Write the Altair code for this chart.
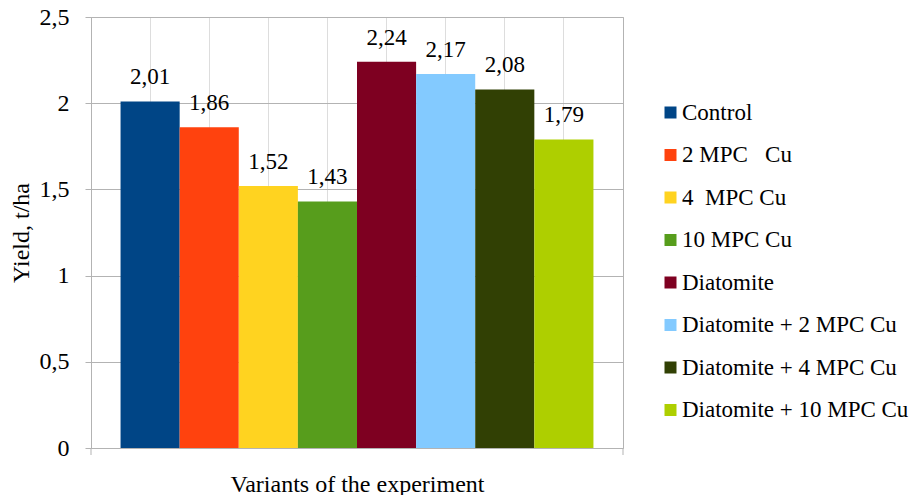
import altair as alt
import pandas as pd

variants = ["Control", "2 MPC\u00a0\u00a0 Cu", "4 \u00a0MPC Cu", "10 MPC Cu", "Diatomite",
            "Diatomite + 2 MPC Cu", "Diatomite + 4 MPC Cu", "Diatomite + 10 MPC Cu"]
yields = [2.01, 1.86, 1.52, 1.43, 2.24, 2.17, 2.08, 1.79]
colors = ["#004586", "#ff420e", "#ffd320", "#579d1c", "#7e0021", "#83caff", "#314004", "#aecf00"]

df = pd.DataFrame({"variant": variants, "yield": yields})

FONT = "Liberation Serif, Times New Roman, serif"
FS = 24
FS_LEG = 23
FS_LAB = 23
GRAY = "#b3b3b3"

yscale = alt.Scale(domain=[0, 2.5], nice=False)

base = alt.Chart(df).transform_calculate(
    lab="replace(format(datum.yield, '.2f'), '.', ',')"
)

x = alt.X("variant:N", sort=variants,
          scale=alt.Scale(paddingInner=0, paddingOuter=0.5),
          axis=alt.Axis(labels=False, ticks=False, domain=False,
                        title="Variants of the experiment",
                        titleFont=FONT, titleFontSize=FS, titleFontWeight="normal",
                        titleColor="black", titleBaseline="alphabetic", titleY=43))

bars = base.mark_bar().encode(
    x=x,
    y=alt.Y("yield:Q", scale=yscale,
            axis=alt.Axis(values=[0, 0.5, 1, 1.5, 2, 2.5],
                          labelExpr="replace(toString(datum.value), '.', ',')",
                          labelFont=FONT, labelFontSize=FS, labelColor="black",
                          labelPadding=16, tickSize=6, tickColor=GRAY,
                          domainColor=GRAY, gridColor=GRAY,
                          title="Yield, t/ha", titleFont=FONT, titleFontSize=FS,
                          titleFontWeight="normal", titleColor="black",
                          titleX=-58)),
    color=alt.Color("variant:N", sort=variants,
                    scale=alt.Scale(domain=variants, range=colors),
                    legend=alt.Legend(title=None, orient="none", legendX=568, legendY=84,
                                      symbolType="square", symbolSize=144,
                                      symbolStrokeWidth=0, labelFont=FONT,
                                      labelFontSize=FS_LEG, labelColor="black",
                                      rowPadding=18.5, labelOffset=0, labelLimit=400)),
)

labels = base.mark_text(font=FONT, fontSize=FS_LAB, color="black", baseline="alphabetic",
                        dy=-17).encode(
    x=alt.X("variant:N", sort=variants),
    y=alt.Y("yield:Q", scale=yscale),
    text="lab:N",
)

edge_ticks = alt.Chart(pd.DataFrame({"e": [0]})).mark_rule(color=GRAY).encode(
    x=alt.value(0), y=alt.value(431), y2=alt.value(438)
)
edge_ticks2 = alt.Chart(pd.DataFrame({"e": [0]})).mark_rule(color=GRAY).encode(
    x=alt.value(532), y=alt.value(431), y2=alt.value(438)
)

chart = alt.layer(bars, labels, edge_ticks, edge_ticks2).properties(
    width=532, height=431,
    autosize=alt.AutoSizeParams(type="none"),
    padding={"left": 83, "top": 9, "right": 290, "bottom": 47},
).configure(
    font=FONT,
    style={"guide-label": {"font": FONT}, "guide-title": {"font": FONT}},
).configure_view(stroke=GRAY).configure_axis(
    grid=True, labelFont=FONT, titleFont=FONT
).configure_legend(labelFont=FONT)

chart.save("out.html", embed_options={"renderer": "svg", "actions": False})
